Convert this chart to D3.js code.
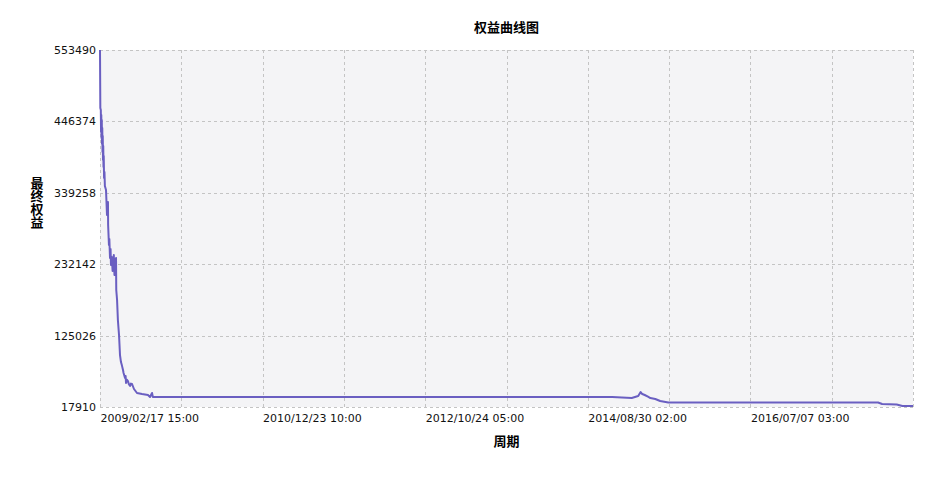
<!DOCTYPE html>
<meta charset="utf-8">
<style>
body { margin: 0; background: #fff; }
.tick text { font: 11px "DejaVu Sans", sans-serif; fill: #111; }
.grid line { stroke: #c4c4c4; stroke-dasharray: 3,3; shape-rendering: crispEdges; }
.equity { fill: none; stroke: #6a5fc1; stroke-width: 2px; stroke-linejoin: round; }
.ttl { font: bold 13px "Noto Sans CJK SC", sans-serif; fill: #000; }
</style>
<body>
<div id="chart"></div>
<script src="https://d3js.org/d3.v7.min.js"></script>
<script>
// bar index (0..1000) and equity
var barIndex = [0, 0.4, 1, 1.3, 1.6, 1.9, 2.2, 2.5, 2.8, 3.1, 3.4, 3.7, 4, 4.3, 4.6, 5, 5.5, 6, 7.4, 8.6, 9.8, 10, 10.5, 11, 11.5, 12.3, 13, 13.5, 14.5, 15.5, 17, 17.4, 17.8, 18.5, 19.7, 20, 21, 22, 23.4, 24.6, 25.8, 27, 28.3, 29, 30.8, 31.5, 32, 33, 34.4, 35.5, 37, 38, 39.4, 41.8, 45.5, 51.7, 59, 61.5, 64, 65, 630, 654, 662, 665, 667, 670, 674, 677, 683, 689, 699, 957, 962, 980, 987, 1000];
var equity = [553490, 466470, 463470, 430500, 456000, 421500, 448500, 412500, 436500, 400500, 424500, 388500, 409500, 378000, 394500, 361500, 370500, 349500, 343500, 306000, 325500, 291000, 276000, 261000, 270000, 241400, 255000, 231000, 243000, 222000, 246000, 228000, 216000, 238000, 241400, 193400, 178400, 148400, 125900, 95900, 85400, 80000, 73400, 69000, 61400, 64500, 53900, 59000, 56900, 52000, 49400, 53000, 52400, 44900, 38900, 37400, 35900, 32900, 38900, 32900, 32900, 31400, 34400, 40400, 37400, 35900, 33400, 31400, 29900, 26900, 24660, 24660, 22400, 21660, 19410, 19410];

var yTicks = [17910, 125026, 232142, 339258, 446374, 553490];
var xTickPos = [0, 100, 200, 300, 400, 500, 600, 700, 800, 900, 1000];
var xTickLabels = ["2009/02/17 15:00", "", "2010/12/23 10:00", "", "2012/10/24 05:00", "", "2014/08/30 02:00", "", "2016/07/07 03:00", "", ""];

var W = 942, H = 488;
var margin = {top: 50, right: 29, bottom: 81, left: 100};
var width = W - margin.left - margin.right,
    height = H - margin.top - margin.bottom;

var svg = d3.select("#chart").append("svg")
    .attr("width", W).attr("height", H);

var g = svg.append("g")
    .attr("transform", "translate(" + margin.left + "," + margin.top + ")");

var x = d3.scaleLinear().domain([0, 1000]).range([0, width]);
var y = d3.scaleLinear().domain([17910, 553490]).range([height, 0]);

g.append("rect")
    .attr("width", width).attr("height", height)
    .attr("fill", "#f4f4f6");

// grid
g.append("g").attr("class", "grid")
    .selectAll("line").data(xTickPos).enter().append("line")
    .attr("x1", function(d) { return Math.round(x(d)) + 0.5; })
    .attr("x2", function(d) { return Math.round(x(d)) + 0.5; })
    .attr("y1", 0).attr("y2", height);
g.append("g").attr("class", "grid")
    .selectAll("line").data(yTicks).enter().append("line")
    .attr("y1", function(d) { return Math.round(y(d)) + 0.5; })
    .attr("y2", function(d) { return Math.round(y(d)) + 0.5; })
    .attr("x1", 0).attr("x2", width);

// axes
var yAxis = g.append("g")
    .call(d3.axisLeft(y).tickValues(yTicks).tickSize(0).tickPadding(4).tickFormat(d3.format("d")));
yAxis.select(".domain").remove();

var xAxis = g.append("g")
    .attr("transform", "translate(0," + height + ")")
    .call(d3.axisBottom(x).tickValues(xTickPos).tickSize(0).tickPadding(7)
        .tickFormat(function(d, i) { return xTickLabels[i]; }));
xAxis.select(".domain").remove();
xAxis.selectAll(".tick text").attr("text-anchor", "start").attr("dx", 0);

// equity line
var pts = barIndex.map(function(d, i) { return [d, equity[i]]; });
g.append("path")
    .datum(pts)
    .attr("class", "equity")
    .attr("d", d3.line()
        .x(function(d) { return x(d[0]); })
        .y(function(d) { return y(d[1]); }));

// titles
svg.append("text").attr("class", "ttl")
    .attr("x", margin.left + width / 2).attr("y", 32)
    .attr("text-anchor", "middle").text("权益曲线图");

svg.append("text").attr("class", "ttl")
    .attr("x", margin.left + width / 2).attr("y", 446)
    .attr("text-anchor", "middle").text("周期");

svg.append("text").attr("class", "ttl")
    .attr("x", 37).attr("y", 203)
    .attr("text-anchor", "middle")
    .style("writing-mode", "vertical-rl")
    .style("text-orientation", "upright")
    .text("最终权益");
</script>
</body>
